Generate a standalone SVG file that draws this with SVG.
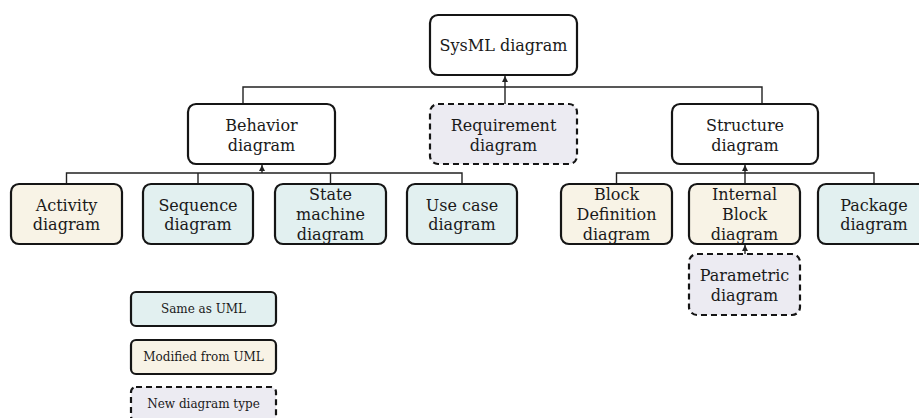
<svg xmlns="http://www.w3.org/2000/svg" width="919" height="418" viewBox="0 0 919 418">
<style>
.box{stroke:#151515;stroke-width:2.2;}
.plain{fill:#ffffff;}
.same{fill:#e2f0f0;}
.mod{fill:#f8f3e6;}
.new{fill:#ecebf2;stroke-dasharray:6 4;}
.t{font-family:"DejaVu Serif","Liberation Serif",serif;font-size:16px;fill:#1a1a1a;text-anchor:middle;}
.s{font-family:"DejaVu Serif","Liberation Serif",serif;font-size:12px;fill:#1a1a1a;text-anchor:middle;}
.c{fill:none;stroke:#222;stroke-width:1.4;}
</style>
<defs>
<marker id="ah" viewBox="0 0 10 10" refX="10" refY="5" markerWidth="7" markerHeight="6" orient="auto" markerUnits="userSpaceOnUse">
<path d="M0,0 L10,5 L0,10 z" fill="#222"/>
</marker>
</defs>
<g id="connectors">
<path class="c" d="M243,104 V87 H762 V104"/>
<path class="c" d="M505,104 V76" marker-end="url(#ah)"/>
<path class="c" d="M66.5,184 V173 H462 V184"/>
<path class="c" d="M198,173 V184 M330.5,173 V184"/>
<path class="c" d="M262,173 V165" marker-end="url(#ah)"/>
<path class="c" d="M616.5,184 V173 H874 V184"/>
<path class="c" d="M745,184 V165" marker-end="url(#ah)"/>
<path class="c" d="M745,254 V245" marker-end="url(#ah)"/>
</g>
<g id="sysml"><rect class="box plain" x="430" y="15" width="147" height="60" rx="8"/><text class="t" x="503.5" y="51">SysML diagram</text></g>
<g id="behavior"><rect class="box plain" x="188" y="104" width="147" height="60" rx="8"/><text class="t" x="261.5" y="131">Behavior</text><text class="t" x="261.5" y="151">diagram</text></g>
<g id="requirement"><rect class="box new" x="430" y="104" width="147" height="60" rx="8"/><text class="t" x="503.5" y="131">Requirement</text><text class="t" x="503.5" y="151">diagram</text></g>
<g id="structure"><rect class="box plain" x="672" y="104" width="146" height="60" rx="8"/><text class="t" x="745" y="131">Structure</text><text class="t" x="745" y="151">diagram</text></g>
<g id="activity"><rect class="box mod" x="11" y="184" width="111" height="60" rx="8"/><text class="t" x="66.5" y="210.5">Activity</text><text class="t" x="66.5" y="230">diagram</text></g>
<g id="sequence"><rect class="box same" x="143" y="184" width="110" height="60" rx="8"/><text class="t" x="198" y="210.5">Sequence</text><text class="t" x="198" y="230">diagram</text></g>
<g id="statemachine"><rect class="box same" x="275" y="184" width="111" height="60" rx="8"/><text class="t" x="330.5" y="200">State</text><text class="t" x="330.5" y="220">machine</text><text class="t" x="330.5" y="240">diagram</text></g>
<g id="usecase"><rect class="box same" x="407" y="184" width="110" height="60" rx="8"/><text class="t" x="462" y="210.5">Use case</text><text class="t" x="462" y="230">diagram</text></g>
<g id="blockdef"><rect class="box mod" x="561" y="184" width="111" height="60" rx="8"/><text class="t" x="616.5" y="200">Block</text><text class="t" x="616.5" y="220">Definition</text><text class="t" x="616.5" y="240">diagram</text></g>
<g id="internalblock"><rect class="box mod" x="689" y="184" width="111" height="60" rx="8"/><text class="t" x="744.5" y="200">Internal</text><text class="t" x="744.5" y="220">Block</text><text class="t" x="744.5" y="240">diagram</text></g>
<g id="package"><rect class="box same" x="818" y="184" width="112" height="60" rx="8"/><text class="t" x="874" y="210.5">Package</text><text class="t" x="874" y="230">diagram</text></g>
<g id="parametric"><rect class="box new" x="689" y="254" width="111" height="61" rx="8"/><text class="t" x="744.5" y="281">Parametric</text><text class="t" x="744.5" y="301">diagram</text></g>
<g id="legend-same"><rect class="box same" x="131" y="292" width="145" height="34" rx="5"/><text class="s" x="203.5" y="313">Same as UML</text></g>
<g id="legend-mod"><rect class="box mod" x="131" y="340" width="145" height="34" rx="5"/><text class="s" x="203.5" y="361">Modified from UML</text></g>
<g id="legend-new"><rect class="box new" x="131" y="387" width="145" height="34" rx="5"/><text class="s" x="203.5" y="408">New diagram type</text></g>
</svg>
